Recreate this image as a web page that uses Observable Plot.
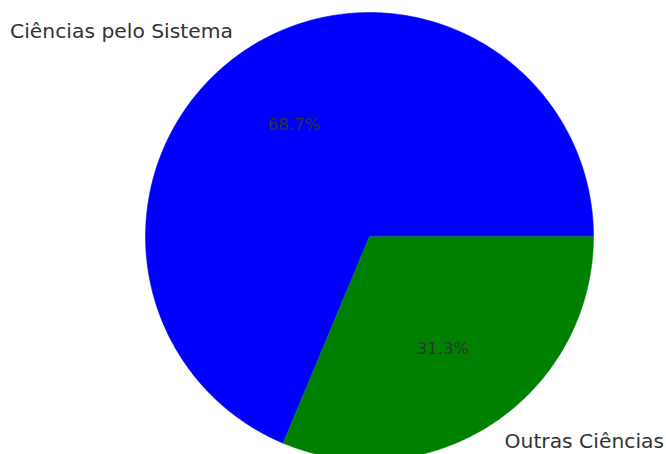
<!DOCTYPE html>
<html>
<head>
<meta charset="utf-8">
<script src="https://cdn.jsdelivr.net/npm/d3@7"></script>
<script src="https://cdn.jsdelivr.net/npm/@observablehq/plot@0.6"></script>
<style>
  html, body { margin: 0; padding: 0; background: #fff; overflow: hidden; }
  #chart svg { display: block; }
</style>
</head>
<body>
<div id="chart"></div>
<script>
const categories = ["Ciências pelo Sistema", "Outras Ciências"];
const values = [68.7, 31.3];
const percentLabels = ["68.7%", "31.3%"];
const colors = ["#0000ff", "#008000"];

const total = d3.sum(values);
const slices = [];
const labels = [];
let start = 0;
values.forEach((v, i) => {
  const end = start + (v / total) * 2 * Math.PI;
  slices.push({cat: categories[i], x: 0, y: 0, k: -1});
  const n = Math.max(4, Math.ceil((end - start) / (Math.PI / 360)));
  for (let j = 0; j <= n; j++) {
    const a = start + (end - start) * j / n;
    slices.push({cat: categories[i], x: Math.cos(a), y: Math.sin(a), k: j});
  }
  const mid = (start + end) / 2;
  labels.push({
    text: categories[i],
    x: 1.1 * Math.cos(mid), y: 1.1 * Math.sin(mid),
    anchor: Math.cos(mid) < 0 ? "end" : "start"
  });
  labels.push({
    text: percentLabels[i],
    x: 0.6 * Math.cos(mid), y: 0.6 * Math.sin(mid),
    anchor: "middle", pct: true
  });
  start = end;
});

const W = 666, H = 454, R = 224, CX = 369, CY = 236;

const chart = Plot.plot({
  width: W,
  height: H,
  margin: 0,
  x: {domain: [-CX / R, (W - CX) / R], axis: null},
  y: {domain: [-(H - CY) / R, CY / R], axis: null},
  color: {domain: categories, range: colors},
  style: {fontFamily: "DejaVu Sans, sans-serif", background: "#fff"},
  marks: [
    Plot.line(slices, {x: "x", y: "y", z: "cat", fill: "cat", stroke: "cat", strokeWidth: 0.5, curve: "linear-closed"}),
    Plot.text(labels.filter(d => !d.pct && d.anchor === "start"), {x: "x", y: "y", text: "text", textAnchor: "start", dx: -1.5, fontSize: 20.3, fill: "#333"}),
    Plot.text(labels.filter(d => !d.pct && d.anchor === "end"), {x: "x", y: "y", text: "text", textAnchor: "end", fontSize: 20.3, fill: "#333"}),
    Plot.text(labels.filter(d => d.pct), {x: "x", y: "y", text: "text", textAnchor: "middle", dx: -1, fontSize: 16.5, fill: "#333"})
  ]
});
document.getElementById("chart").appendChild(chart);
</script>
</body>
</html>
